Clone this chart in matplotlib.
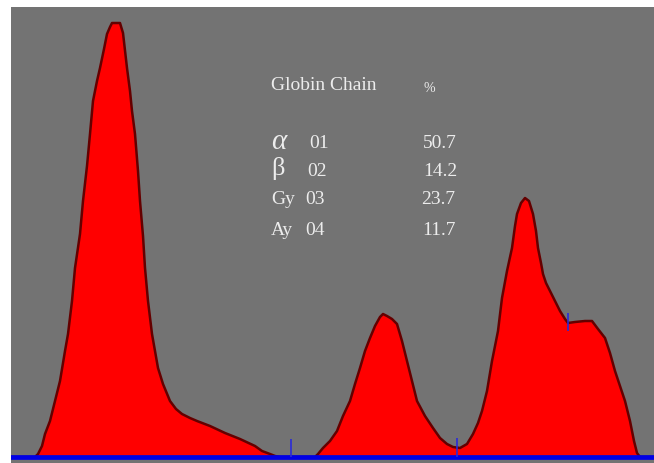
import matplotlib
matplotlib.use("Agg")
import matplotlib.pyplot as plt

# densitometer trace: migration position / absorbance
position = [11, 35, 38, 42, 45, 50, 55, 60, 65, 68, 72, 75, 80, 83, 87, 90, 93, 97,
            100, 104, 107, 110, 112, 120, 123, 127, 130, 132, 135, 138, 140, 143,
            145, 148, 152, 158, 163, 170, 176, 182, 190, 197, 210, 225, 240, 255,
            262, 270, 275, 280, 315, 318, 323, 330, 337, 343, 350, 355, 360, 365,
            370, 375, 380, 383, 387, 392, 397, 402, 407, 412, 417, 425, 433, 440,
            447, 453, 460, 467, 473, 478, 482, 487, 492, 495, 498, 502, 507, 512,
            515, 517, 521, 525, 529, 533, 536, 538, 541, 543, 546, 550, 555, 560,
            565, 568, 575, 585, 592, 598, 605, 610, 615, 620, 625, 630, 634, 637,
            640, 654]
absorbance = [0, 0, 3, 11, 23, 36, 56, 76, 106, 123, 156, 189, 223, 256, 291, 323,
              356, 376, 389, 408, 423, 430, 434, 434, 424, 389, 366, 346, 323, 286,
              256, 221, 189, 156, 123, 89, 73, 56, 48, 43, 39, 36, 31, 24, 18, 11,
              6, 3, 1, 0, 0, 3, 9, 16, 26, 41, 56, 73, 89, 106, 119, 131, 140, 143,
              141, 138, 133, 116, 96, 76, 56, 41, 29, 19, 13, 10, 9, 13, 23, 34,
              46, 66, 96, 111, 126, 159, 186, 209, 231, 243, 254, 259, 256, 243,
              226, 209, 194, 183, 174, 166, 156, 146, 138, 134, 135, 136, 136, 128,
              119, 104, 86, 71, 56, 36, 16, 4, 0, 0]

# integration cut marks
cut_pos = [291, 457, 568]
cut_low = [0, 0, 126]
cut_high = [18, 19, 144]

chains = ["α", "β", "Gy", "Ay"]
peak_ids = ["01", "02", "03", "04"]
percents = ["50.7", "14.2", "23.7", "11.7"]

GRAY = "#737373"
RED = "#ff0000"
DARKRED = "#640000"
BLUE = "#0000e6"
TEXT = "#ececec"

fig = plt.figure(figsize=(6.54, 4.63), dpi=100)
ax = fig.add_axes([11 / 654.0, 0, 643 / 654.0, 456 / 463.0])
ax.set_facecolor(GRAY)

ax.fill_between(position, absorbance, 0, color=RED, lw=0)
ax.plot(position, absorbance, color=DARKRED, lw=1.8)
ax.axhline(0, color=BLUE, lw=3.4)
ax.vlines(cut_pos, cut_low, cut_high, color="#2a2ad8", lw=1.2)

ax.set_xlim(11, 654)
ax.set_ylim(-6, 450)
ax.set_xticks([])
ax.set_yticks([])
for s in ax.spines.values():
    s.set_visible(False)

W, H = 654.0, 463.0
serif = "Liberation Serif"


def put(x, y, s, **kw):
    fig.text(x / W, 1 - y / H, s, color=TEXT, family=serif, va="center",
             ha="left", **kw)


put(271, 85, "Globin Chain", fontsize=14)
put(423, 88, "%", fontsize=10)

rows_y = [144, 171, 200, 230]
chain_size = [21, 19, 14, 14]
chain_style = ["italic", "normal", "normal", "normal"]
id_x = [309, 307, 305, 305]
pct_x = [423, 423, 421, 422]
for i in range(len(chains)):
    put(271, rows_y[i] - (2 if i < 2 else 0), chains[i], fontsize=chain_size[i],
        style=chain_style[i])
    put(id_x[i], rows_y[i], peak_ids[i], fontsize=14)
    put(pct_x[i], rows_y[i], percents[i], fontsize=14)

fig.savefig("out.png", dpi=100, facecolor="white")
